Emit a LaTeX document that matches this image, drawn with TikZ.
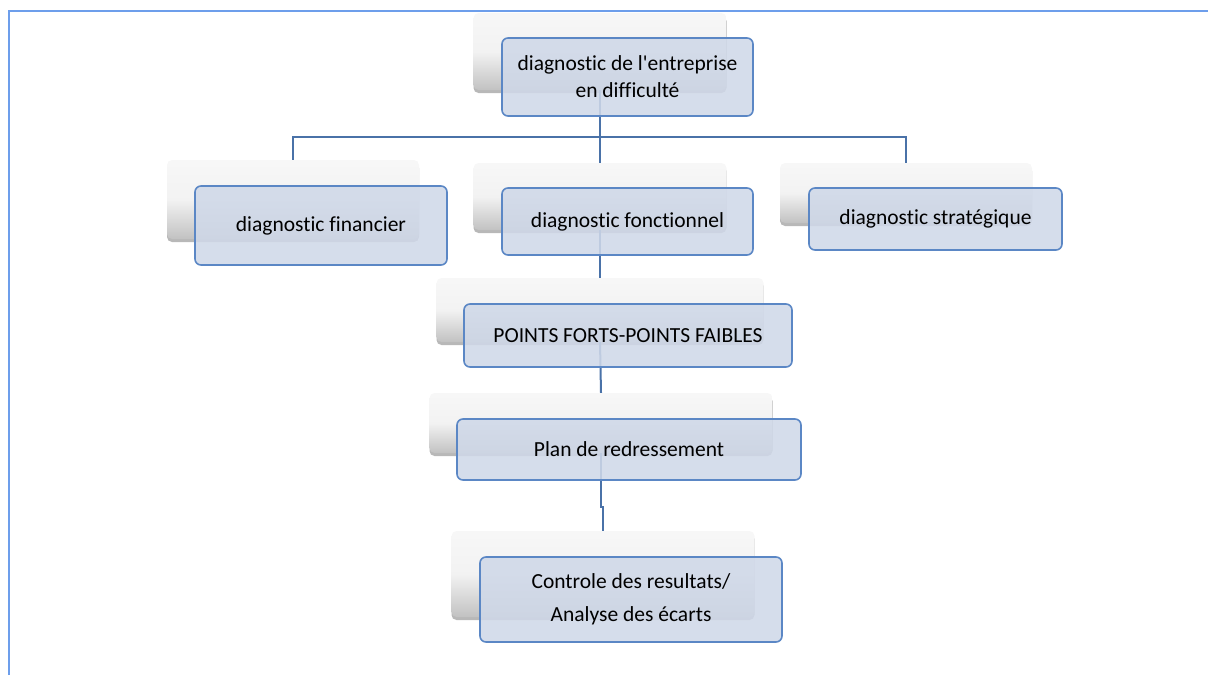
\documentclass[tikz,border=0pt]{standalone}
\usepackage{fontspec}
\setmainfont{Carlito}
% labels without ligatures and with a straight apostrophe
\newfontfamily\labelfont{Carlito}[Ligatures=CommonOff]
\usetikzlibrary{shadows}
\definecolor{framecol}{HTML}{6D9EEB}
\definecolor{linkcol}{HTML}{4A72A8}
\definecolor{boxedge}{HTML}{5B87C5}
\definecolor{boxfill}{HTML}{CFD8E8}
\tikzset{
  backbox/.style={rounded corners=5pt, inner sep=0pt,
    top color=white!97!black, bottom color=black!24, middle color=white!95!black,
    drop shadow={shadow xshift=0pt, shadow yshift=-3pt, opacity=0.28, fill=black}},
  frontbox/.style={rounded corners=6pt, draw=boxedge, line width=1.6pt,
    fill=boxfill, fill opacity=0.88, text opacity=1, inner sep=0pt,
    font=\labelfont\fontsize{21.5}{27}\selectfont, align=center},
  link/.style={draw=linkcol, line width=2pt},
  border/.style={draw=framecol, line width=2.4pt}
}
\begin{document}
\begin{tikzpicture}[x=1pt,y=-1pt]
  \useasboundingbox (0,0) rectangle (1208,675);
  % page frame
  \draw[border] (9,675) -- (9,11) -- (1208,11);

  % shaded boxes behind the labelled ones
  \node[backbox, minimum width=253pt, minimum height=77pt] (topB) at (600,51.5) {};
  \node[backbox, minimum width=252pt, minimum height=79pt] (finB) at (293,199.5) {};
  \node[backbox, minimum width=253pt, minimum height=67pt] (fonB) at (600,196.5) {};
  \node[backbox, minimum width=252pt, minimum height=60pt] (strB) at (906,193) {};
  \node[backbox, minimum width=327pt, minimum height=64pt] (pfB) at (600,310) {};
  \node[backbox, minimum width=343pt, minimum height=60pt] (plnB) at (601,423) {};
  \node[backbox, minimum width=303pt, minimum height=86pt] (ctlB) at (603,574) {};

  % connectors
  \coordinate (j) at (600,137);
  \draw[link] (topB.south) -- (j);
  \draw[link] (j) -| (finB.north);
  \draw[link] (j) -| (strB.north);
  \draw[link] (j) -- (fonB.north);
  \draw[link] (fonB.south) -- (pfB.north);
  \draw[link] (pfB.south) -- (plnB.north);
  \draw[link] (plnB.south) -- ++(0,54) -| (ctlB.north);

  % labelled boxes
  \node[frontbox, minimum width=251pt, minimum height=78pt] (top) at (627.5,77)
    {diagnostic de l'entreprise\\[0pt]en difficulté};
  \node[frontbox, minimum width=252pt, minimum height=79pt] (fin) at (321,225.5)
    {diagnostic financier};
  \node[frontbox, minimum width=251pt, minimum height=67pt] (fon) at (627.5,221.5)
    {diagnostic fonctionnel};
  \node[frontbox, minimum width=253pt, minimum height=62pt] (str) at (935.5,219)
    {diagnostic stratégique};
  \node[frontbox, minimum width=328pt, minimum height=63pt] (pf) at (628,335.5)
    {POINTS FORTS-POINTS FAIBLES};
  \node[frontbox, minimum width=344pt, minimum height=61pt] (pln) at (629,449.5)
    {Plan de redressement};
  \node[frontbox, minimum width=302pt, minimum height=85pt] (ctl) at (631,599.5)
    {Controle des resultats/\\[6pt]Analyse des écarts};
\end{tikzpicture}
\end{document}
